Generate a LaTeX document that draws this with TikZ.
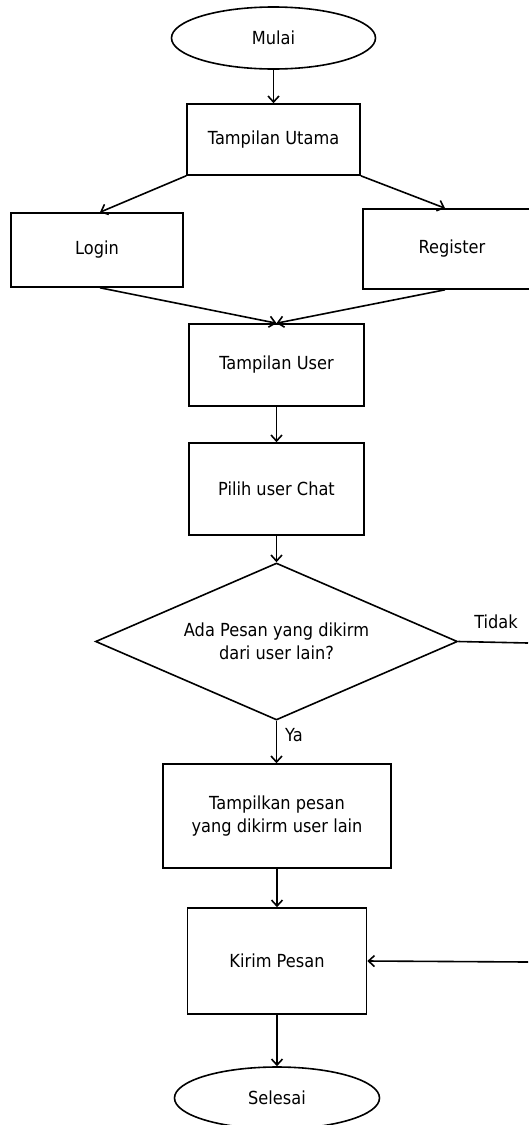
\documentclass[tikz,border=0pt]{standalone}
\usepackage{fontspec}
\setmainfont{DejaVu Sans}[FakeStretch=0.9]
\usetikzlibrary{shapes.geometric,arrows.meta,calc}

\begin{document}
\begin{tikzpicture}[x=1pt,y=-1pt,
  font=\fontsize{18}{23.5}\selectfont,
  line width=1.6pt,
  box/.style={draw, rectangle, inner sep=0pt, align=center},
  term/.style={draw, ellipse, inner sep=0pt, minimum width=204pt, minimum height=62pt},
  decide/.style={draw, diamond, aspect=2.3, inner sep=0pt, align=center,
                 minimum width=362pt, minimum height=157pt},
  flow/.style={-{Straight Barb[length=6pt,width=11pt]}},
  lbl/.style={inner sep=0pt}]
  \useasboundingbox (0,0) rectangle (528,1125);

  % process steps
  \node[term] (mulai) at (273.5,38) {Mulai};
  \node[box, minimum width=173pt, minimum height=71pt] (utama) at (273.5,139.5) {Tampilan Utama};
  \node[box, minimum width=172pt, minimum height=74pt] (login) at (97,250) {Login};
  \node[box, minimum width=178pt, minimum height=80pt] (register) at (452,249) {Register};
  \node[box, minimum width=175pt, minimum height=82pt] (tuser) at (276.5,365) {Tampilan User};
  \node[box, minimum width=175pt, minimum height=92pt] (pilih) at (276.5,489) {Pilih user Chat};
  \node[decide] (cek) at (276.5,641.5) {Ada Pesan yang dikirm\\dari user lain?};
  \node[box, minimum width=228pt, minimum height=104pt] (tampil) at (277,816) {Tampilkan pesan\\yang dikirm user lain};
  \node[box, minimum width=179pt, minimum height=106pt] (kirim) at (277,961) {Kirim Pesan};
  \node[term, minimum width=205pt] (selesai) at (277,1098) {Selesai};

  % branch labels
  \node[lbl] (ya) at (294,735) {Ya};
  \node[lbl] (tidak) at (496,622) {Tidak};

  % ends of the "Tidak" route at the right margin
  \coordinate (tidakEnd) at (528,643);
  \coordinate (kirimIn) at (528,962);

  % connectors
  \draw[flow] (mulai.south) -- (utama.north);
  \draw[flow] (utama.south west) -- ($(login.north)+(3,0)$);
  \draw[flow] (utama.south east) -- ($(register.north)+(-7,0)$);
  \draw[flow] ($(login.south)+(3,0)$) -- (tuser.north);
  \draw[flow] ($(register.south)+(-7,0)$) -- (tuser.north);
  \draw[flow] (tuser.south) -- (pilih.north);
  \draw[flow] (pilih.south) -- (cek.north);
  \draw[flow] (cek.south) -- (cek.south |- tampil.north);
  \draw[flow] (tampil.south) -- (tampil.south |- kirim.north);
  \draw[flow] (kirim.south) -- (kirim.south |- selesai.north);
  \draw (cek.east) -- (tidakEnd);
  \draw[flow] (kirimIn) -- (kirim.east);
\end{tikzpicture}
\end{document}
